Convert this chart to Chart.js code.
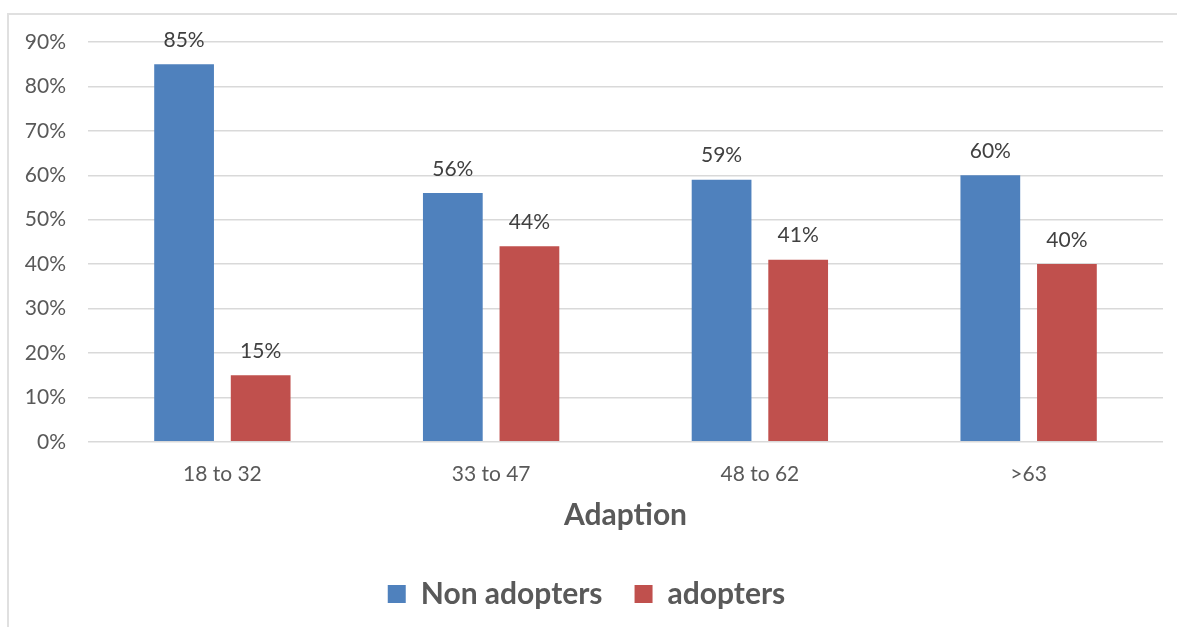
<!DOCTYPE html>
<html>
<head>
<meta charset="utf-8">
<script src="https://cdn.jsdelivr.net/npm/chart.js@4"></script>
<style>
    body { margin: 0; background: #fff; overflow: hidden; }
    .wrap { position: relative; width: 1177px; height: 627px; }
    .frame { position: absolute; left: 7px; top: 13px; width: 1300px; height: 800px; border: 2px solid #e0e0e0; box-sizing: border-box; }
    canvas { position: absolute; left: 0; top: 0; }
</style>
</head>
<body>
<div class="wrap">
    <div class="frame"></div>
    <canvas id="adaptionChart" width="1177" height="627"></canvas>
</div>
<script>
// Chart data
const categories = ['18 to 32', '33 to 47', '48 to 62', '>63'];
const nonAdopters = [85, 56, 59, 60];
const adopters = [15, 44, 41, 40];
const yTickLabels = ['0%', '10%', '20%', '30%', '40%', '50%', '60%', '70%', '80%', '90%'];

const textColor = '#595959';
const fontFamily = 'Lato, "Open Sans", sans-serif';

// Small plugin to write the value above every bar
const barLabels = {
    id: 'barLabels',
    afterDatasetsDraw(chart) {
        const ctx = chart.ctx;
        ctx.save();
        ctx.font = '21px ' + fontFamily;
        ctx.fillStyle = '#404040';
        ctx.textAlign = 'center';
        ctx.textBaseline = 'middle';
        chart.data.datasets.forEach((ds, i) => {
            const meta = chart.getDatasetMeta(i);
            meta.data.forEach((bar, j) => {
                ctx.fillText(ds.data[j] + '%', bar.x, bar.y - 24);
            });
        });
        ctx.restore();
    }
};

const ctx = document.getElementById('adaptionChart').getContext('2d');
const adaptionChart = new Chart(ctx, {
    type: 'bar',
    data: {
        labels: categories,
        datasets: [
            {
                label: 'Non adopters',
                data: nonAdopters,
                backgroundColor: '#4F81BD',
                categoryPercentage: 0.57,
                barPercentage: 0.78
            },
            {
                label: 'adopters',
                data: adopters,
                backgroundColor: '#C0504D',
                categoryPercentage: 0.57,
                barPercentage: 0.78
            }
        ]
    },
    options: {
        responsive: false,
        animation: false,
        layout: { padding: { left: 10, right: 14, top: 42, bottom: 8 } },
        plugins: {
            tooltip: { enabled: false },
            legend: {
                position: 'bottom',
                labels: {
                    color: textColor,
                    font: { family: fontFamily, size: 30, weight: 'bold' },
                    boxWidth: 18,
                    boxHeight: 18,
                    padding: 32
                }
            }
        },
        scales: {
            x: {
                grid: { display: false, drawTicks: false },
                border: { display: false },
                ticks: {
                    color: textColor,
                    font: { family: fontFamily, size: 21 },
                    padding: 20
                },
                title: {
                    display: true,
                    text: 'Adaption',
                    color: textColor,
                    font: { family: fontFamily, size: 30, weight: 'bold' },
                    padding: { top: -10, bottom: 14 }
                }
            },
            y: {
                min: 0,
                max: 90,
                afterFit: (scale) => { scale.width = 78; },
                grid: { color: '#d9d9d9', lineWidth: 1.5, drawTicks: false },
                border: { display: false },
                ticks: {
                    stepSize: 10,
                    color: textColor,
                    font: { family: fontFamily, size: 21 },
                    padding: 22,
                    callback: (value) => yTickLabels[Math.round(value / 10)]
                }
            }
        }
    },
    plugins: [barLabels]
});
</script>
</body>
</html>
